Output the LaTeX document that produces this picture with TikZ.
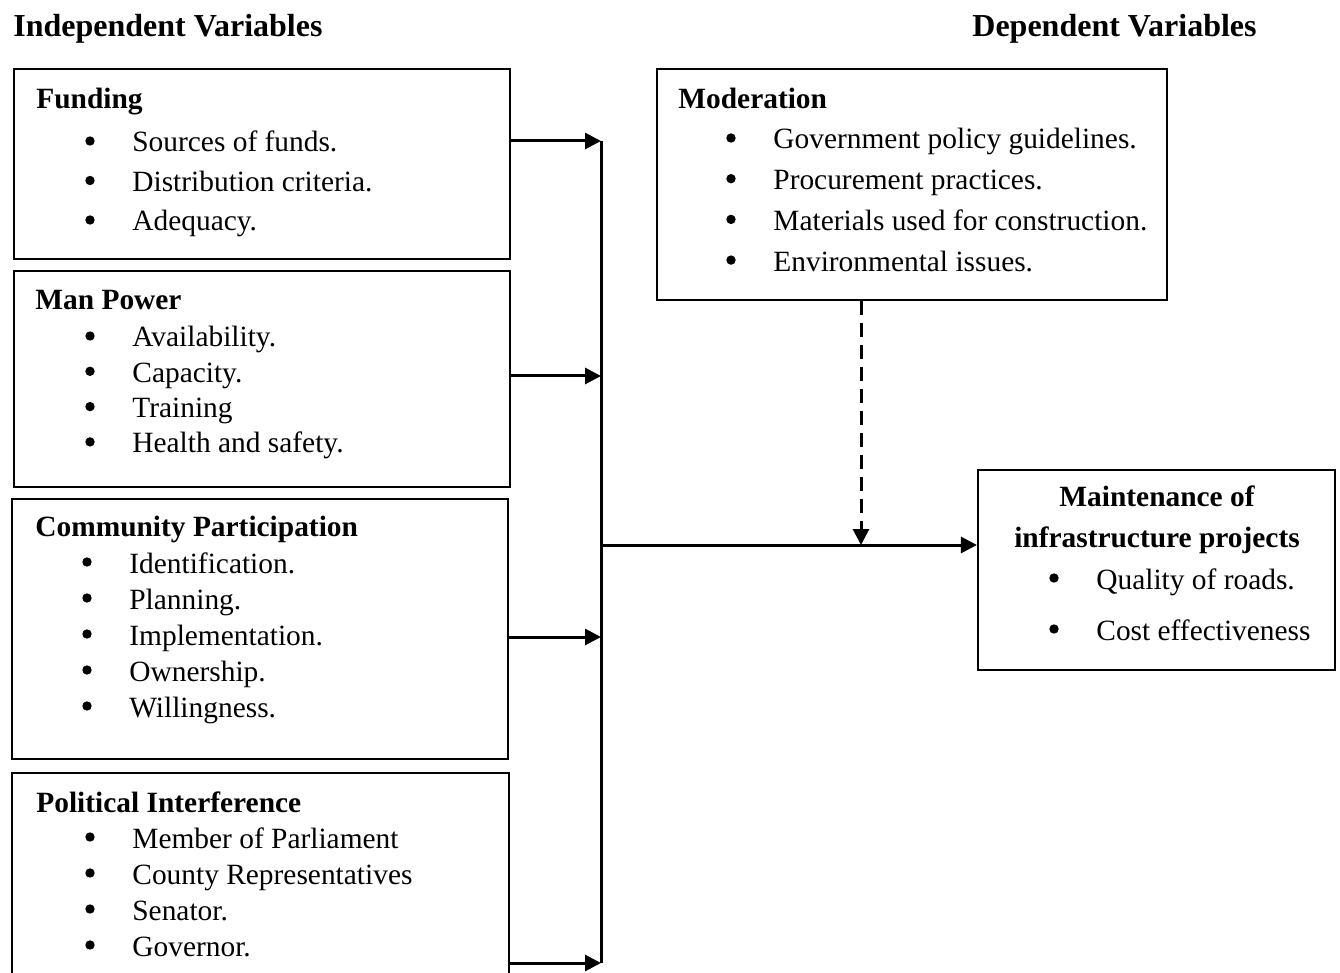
\documentclass[tikz,border=0pt]{standalone}
\usepackage{fontspec}
\setmainfont{Liberation Serif}
\usetikzlibrary{arrows.meta,fit}

\newcommand{\fs}{\fontsize{14.7}{17}\selectfont}
\newcommand{\dotat}[1]{\fill (#1.base west) ++(5,-11) circle (4.7);}

\tikzset{
  box/.style={draw, line width=1.1pt, inner sep=0pt},
  title/.style={anchor=base west, inner sep=0pt, font=\fontsize{16}{19}\selectfont\bfseries},
  head/.style={anchor=base west, inner sep=0pt, font=\fs\bfseries},
  itm/.style={anchor=base west, inner sep=0pt, font=\fs},
  link/.style={line width=1.5pt, -{Triangle[length=8pt,width=8pt]}},
}

\begin{document}
\begin{tikzpicture}[x=0.5pt,y=-0.5pt]
\useasboundingbox (0,0) rectangle (1340,973);

\node[title] (indep) at (13,37) {Independent Variables};
\node[title] (dep) at (972,37) {Dependent Variables};

% boxes
\node[box, fit={(14,69) (510,259)}] (fund) {};
\node[box, fit={(14,271) (510,487)}] (man) {};
\node[box, fit={(12,499) (508,759)}] (comm) {};
\node[box, fit={(12,773) (509,990)}] (pol) {};
\node[box, fit={(657,69) (1167,300)}] (moder) {};
\node[box, fit={(978,470) (1335,670)}] (maint) {};

% Funding
\node[head] (fundh) at (36,109) {Funding};
\foreach \t [count=\i] in {Sources of funds., Distribution criteria., Adequacy.}{
  \node[itm] (fund\i) at (85,{152+39.5*(\i-1)}) {\hspace{23.5pt}\t};
  \dotat{fund\i}
}

% Man Power
\node[head] (manh) at (35,310) {Man Power};
\foreach \t [count=\i] in {Availability., Capacity., Training, Health and safety.}{
  \node[itm] (man\i) at (85,{347+35.3*(\i-1)}) {\hspace{23.5pt}\t};
  \dotat{man\i}
}

% Community Participation
\node[head] (commh) at (35,537) {Community Participation};
\foreach \t [count=\i] in {Identification., Planning., Implementation., Ownership., Willingness.}{
  \node[itm] (comm\i) at (82,{573+36*(\i-1)}) {\hspace{23.5pt}\t};
  \dotat{comm\i}
}

% Political Interference
\node[head] (polh) at (36,812) {Political Interference};
\foreach \t [count=\i] in {Member of Parliament, County Representatives, Senator., Governor.}{
  \node[itm] (pol\i) at (85,{848+36*(\i-1)}) {\hspace{23.5pt}\t};
  \dotat{pol\i}
}

% Moderation
\node[head] (moderh) at (678,109) {Moderation};
\foreach \t [count=\i] in {Government policy guidelines., Procurement practices., Materials used for construction., Environmental issues.}{
  \node[itm] (moder\i) at (726,{149+40.7*(\i-1)}) {\hspace{23.5pt}\t};
  \dotat{moder\i}
}

% Maintenance
\node[head, anchor=base] (mainth1) at (1157,507) {Maintenance of};
\node[head, anchor=base] (mainth2) at (1157,547) {infrastructure projects};
\node[itm] (maint1) at (1049,589) {\hspace{23.5pt}Quality of roads.};
\node[itm] (maint2) at (1049,640) {\hspace{23.5pt}Cost effectiveness};
\dotat{maint1}
\dotat{maint2}

% connectors
\coordinate (b1) at (601,141);
\coordinate (b2) at (601,376);
\coordinate (b3) at (601,637);
\coordinate (b4) at (601,963);
\coordinate (jn) at (601,545);
\coordinate (dp) at (861,545);

\draw[line width=1.5pt] (b1) -- (b4);
\draw[link] (fund.east |- b1) -- (b1);
\draw[link] (man.east |- b2) -- (b2);
\draw[link] (comm.east |- b3) -- (b3);
\draw[link] (pol.east |- b4) -- (b4);
\draw[link] (jn) -- (maint.west |- jn);
\draw[link, dash pattern=on 7pt off 4pt] (dp |- moder.south) -- (dp);
\end{tikzpicture}
\end{document}
